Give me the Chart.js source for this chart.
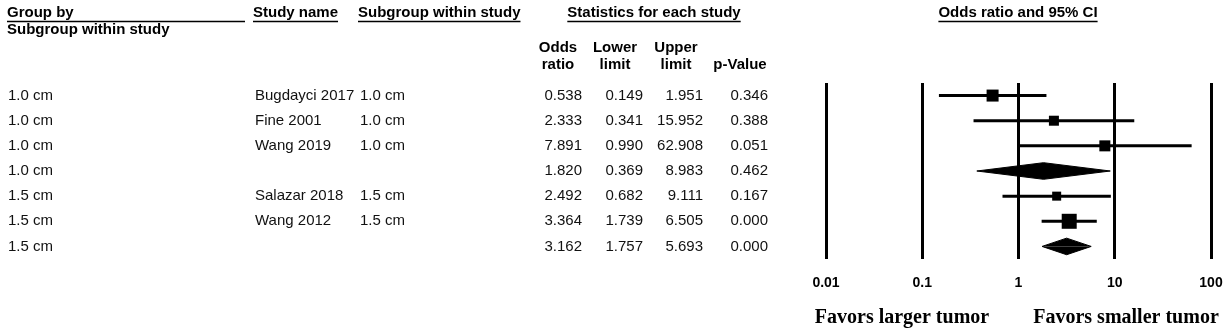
<!DOCTYPE html>
<html>
<head>
<meta charset="utf-8">
<title>Forest plot</title>
<script src="https://cdn.jsdelivr.net/npm/chart.js@4.4.0/dist/chart.umd.min.js"></script>
<style>
  body { margin: 0; background: #fff; }
  canvas { display: block; }
</style>
</head>
<body>
<canvas id="forest" width="1232" height="334"></canvas>
<script>
const groupBy = ['1.0 cm', '1.0 cm', '1.0 cm', '1.0 cm', '1.5 cm', '1.5 cm', '1.5 cm'];
const studyNames = ['Bugdayci 2017', 'Fine 2001', 'Wang 2019', '', 'Salazar 2018', 'Wang 2012', ''];
const subgroups = ['1.0 cm', '1.0 cm', '1.0 cm', '', '1.5 cm', '1.5 cm', ''];
const oddsRatio = [0.538, 2.333, 7.891, 1.820, 2.492, 3.364, 3.162];
const lowerLimit = [0.149, 0.341, 0.990, 0.369, 0.682, 1.739, 1.757];
const upperLimit = [1.951, 15.952, 62.908, 8.983, 9.111, 6.505, 5.693];
const pValues = [0.346, 0.388, 0.051, 0.462, 0.167, 0.000, 0.000];
const axisTicks = [0.01, 0.1, 1, 10, 100];

// box side (px) for each study, pooled rows get a diamond instead
const boxSide = [12, 10, 11, 0, 9, 15, 0];
const diamondHalf = 0.33;

const SANS = "'Liberation Sans', Arial, sans-serif";
const SERIF = "'Liberation Serif', 'Times New Roman', serif";

const datasets = [];
const boxes = [];
const boxRadius = [];
oddsRatio.forEach((or, i) => {
  const pooled = studyNames[i] === '';
  if (pooled) {
    // top and bottom halves of the diamond, each filled back to the row line
    [-diamondHalf, diamondHalf].forEach(d => {
      datasets.push({
        data: [{ x: lowerLimit[i], y: i }, { x: or, y: i + d }, { x: upperLimit[i], y: i }],
        showLine: true,
        fill: { value: i },
        borderColor: '#000',
        borderWidth: 1,
        backgroundColor: '#000',
        pointRadius: 0,
        tension: 0
      });
    });
  } else {
    datasets.push({
      data: [{ x: lowerLimit[i], y: i }, { x: upperLimit[i], y: i }],
      showLine: true,
      borderColor: '#000',
      borderWidth: 3,
      pointRadius: 0
    });
    boxes.push({ x: or, y: i });
    boxRadius.push(boxSide[i] / (2 * Math.SQRT1_2));
  }
});
datasets.push({
  data: boxes,
  pointStyle: 'rect',
  pointRadius: boxRadius,
  backgroundColor: '#000',
  borderWidth: 0
});

function underline(ctx, x, y, w) {
  ctx.save();
  ctx.strokeStyle = '#000';
  ctx.lineWidth = 1.5;
  ctx.beginPath();
  ctx.moveTo(x, y);
  ctx.lineTo(x + w, y);
  ctx.stroke();
  ctx.restore();
}

function header(ctx, text, x, y, align, lineTo) {
  ctx.textAlign = align;
  ctx.fillText(text, x, y);
  const w = ctx.measureText(text).width;
  const left = align === 'center' ? x - w / 2 : x;
  underline(ctx, left, y + 8.5, lineTo ? lineTo - left : w);
}

const tablePlugin = {
  id: 'studyTable',
  afterDraw(chart) {
    const ctx = chart.ctx;
    const yScale = chart.scales.y;
    ctx.save();
    ctx.fillStyle = '#000';
    ctx.textBaseline = 'middle';

    ctx.font = 'bold 15px ' + SANS;
    header(ctx, 'Group by', 7, 13, 'left', 245);
    ctx.textAlign = 'left';
    ctx.fillText('Subgroup within study', 7, 30);
    header(ctx, 'Study name', 253, 13, 'left');
    header(ctx, 'Subgroup within study', 358, 13, 'left');
    header(ctx, 'Statistics for each study', 654, 13, 'center');
    header(ctx, 'Odds ratio and 95% CI', 1018, 13, 'center');

    const colHeads = [['Odds', 'ratio', 558], ['Lower', 'limit', 615], ['Upper', 'limit', 676], ['', 'p-Value', 740]];
    ctx.textAlign = 'center';
    colHeads.forEach(([a, b, x]) => {
      ctx.fillText(a, x, 48);
      ctx.fillText(b, x, 65);
    });

    ctx.font = '15px ' + SANS;
    ctx.fillStyle = '#111';
    const numCols = [[oddsRatio, 582], [lowerLimit, 643], [upperLimit, 703], [pValues, 768]];
    groupBy.forEach((g, i) => {
      const y = yScale.getPixelForValue(i);
      ctx.textAlign = 'left';
      ctx.fillText(g, 8, y);
      ctx.fillText(studyNames[i], 255, y);
      ctx.fillText(subgroups[i], 360, y);
      ctx.textAlign = 'right';
      numCols.forEach(([arr, x]) => ctx.fillText(arr[i].toFixed(3), x, y));
    });

    ctx.fillStyle = '#000';
    ctx.font = 'bold 20px ' + SERIF;
    ctx.textAlign = 'center';
    ctx.fillText('Favors larger tumor', 902, 318);
    ctx.fillText('Favors smaller tumor', 1126, 318);
    ctx.restore();
  }
};

new Chart(document.getElementById('forest'), {
  type: 'scatter',
  data: { datasets: datasets },
  options: {
    responsive: false,
    animation: false,
    events: [],
    layout: { padding: { left: 826, right: 21, top: 83, bottom: 35 } },
    scales: {
      x: {
        type: 'logarithmic',
        min: 0.01,
        max: 100,
        afterBuildTicks: (scale) => { scale.ticks = axisTicks.map(v => ({ value: v })); },
        afterFit: (scale) => {
          scale.height = 40;
          scale.paddingLeft = 0;
          scale.paddingRight = 0;
        },
        grid: { color: '#000', lineWidth: 3, drawTicks: false },
        border: { display: false },
        ticks: {
          color: '#000',
          font: { family: SANS, size: 14, weight: 'bold' },
          padding: 16,
          autoSkip: false,
          maxRotation: 0,
          callback: (v) => String(v)
        }
      },
      y: {
        type: 'linear',
        min: -0.5,
        max: 6.5,
        reverse: true,
        display: false
      }
    },
    plugins: {
      legend: { display: false },
      tooltip: { enabled: false }
    }
  },
  plugins: [tablePlugin]
});
</script>
</body>
</html>
